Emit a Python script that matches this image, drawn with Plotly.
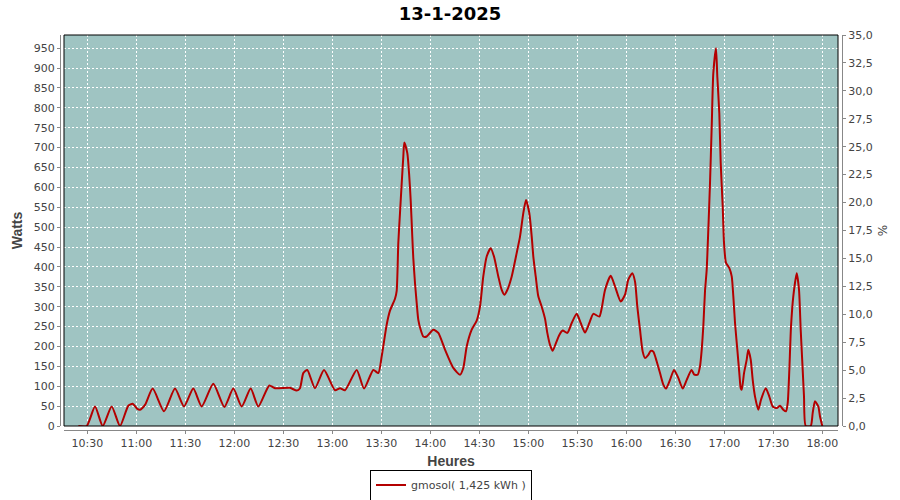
import plotly.graph_objects as go

DATE = "2025-01-13"
TITLE = "13-1-2025"
SERIES_NAME = "gmosol( 1,425 kWh )"

times = [
    "10:24:30", "10:29:38", "10:34:43", "10:39:26", "10:44:56", "10:50:01", "10:55:06", "10:57:48",
    "11:00:37", "11:02:16", "11:05:20", "11:10:02", "11:16:58", "11:23:41", "11:29:12", "11:34:54",
    "11:40:02", "11:47:08", "11:53:53", "11:59:23", "12:04:32", "12:10:02", "12:14:41", "12:21:26",
    "12:24:55", "12:34:06", "12:38:12", "12:40:13", "12:42:14", "12:44:41", "12:49:24", "12:54:55",
    "13:01:39", "13:04:43", "13:07:46", "13:14:56", "13:19:24", "13:25:06", "13:28:10", "13:30:14",
    "13:33:18", "13:35:19", "13:38:23", "13:39:25", "13:40:24", "13:41:26", "13:42:29", "13:43:28",
    "13:44:04", "13:45:55", "13:47:08", "13:47:59", "13:48:58", "13:49:35", "13:50:38", "13:51:40",
    "13:52:39", "13:54:07", "13:55:43", "13:57:47", "14:01:50", "14:04:53", "14:08:59", "14:14:05",
    "14:18:11", "14:20:12", "14:22:17", "14:25:20", "14:28:24", "14:30:25", "14:32:26", "14:34:31",
    "14:36:58", "14:38:59", "14:41:38", "14:43:43", "14:45:18", "14:47:08", "14:49:50", "14:52:53",
    "14:54:55", "14:56:56", "14:58:35", "15:00:37", "15:02:05", "15:03:04", "15:04:32", "15:06:07",
    "15:08:12", "15:10:13", "15:11:38", "15:13:17", "15:14:56", "15:16:58", "15:18:59", "15:21:04",
    "15:23:53", "15:26:34", "15:29:38", "15:32:05", "15:34:43", "15:37:21", "15:39:47", "15:43:28",
    "15:44:56", "15:46:58", "15:50:27", "15:53:05", "15:56:34", "15:59:12", "16:01:13", "16:03:40",
    "16:05:20", "16:06:44", "16:08:23", "16:10:02", "16:11:27", "16:13:28", "16:14:56", "16:16:32",
    "16:18:37", "16:20:38", "16:22:39", "16:24:18", "16:26:45", "16:29:12", "16:31:50", "16:34:32",
    "16:36:59", "16:39:55", "16:41:38", "16:43:43", "16:45:07", "16:46:10", "16:47:08", "16:48:11",
    "16:49:13", "16:50:12", "16:51:14", "16:52:17", "16:53:16", "16:54:55", "16:55:43", "16:56:56",
    "16:57:47", "16:59:01", "16:59:49", "17:01:02", "17:03:04", "17:04:32", "17:05:31", "17:06:33",
    "17:07:58", "17:09:11", "17:10:02", "17:10:39", "17:12:04", "17:13:43", "17:14:41", "17:16:10",
    "17:17:23", "17:18:48", "17:20:49", "17:22:28", "17:25:21", "17:27:33", "17:29:38", "17:32:05",
    "17:34:06", "17:36:07", "17:37:47", "17:38:49", "17:39:48", "17:40:50", "17:42:14", "17:44:20",
    "17:45:44", "17:46:46", "17:47:59", "17:48:47", "17:49:50", "17:52:53", "17:54:07", "17:55:31",
    "17:57:33", "17:58:35", "18:00:00",
]

watts = [
    0, 0, 49, 0, 49, 0, 51, 56,
    43, 41, 53, 94, 37, 94, 49, 94,
    49, 106, 48, 94, 49, 94, 49, 102,
    95, 96, 89, 95, 133, 141, 95, 141,
    90, 95, 90, 141, 94, 141, 133, 175,
    255, 290, 320, 340, 460, 535, 610, 677,
    713, 686, 627, 568, 476, 422, 359, 309,
    267, 242, 225, 225, 242, 234, 192, 146,
    129, 146, 200, 242, 265, 300, 376, 426,
    447, 426, 376, 342, 330, 342, 376, 435,
    476, 535, 568, 535, 476, 426, 376, 326,
    300, 270, 234, 204, 189, 209, 229, 240,
    234, 259, 282, 259, 235, 259, 282, 275,
    296, 342, 378, 351, 313, 330, 368, 384,
    363, 300, 242, 187, 171, 179, 189, 187,
    162, 133, 104, 94, 116, 141, 121, 94,
    116, 141, 129, 129, 150, 192, 250, 340,
    393, 493, 610, 753, 887, 950, 878, 786,
    661, 552, 460, 410, 397, 376, 326, 259,
    192, 133, 95, 91, 133, 167, 192, 167,
    116, 74, 41, 66, 95, 74, 49, 45,
    51, 41, 37, 58, 141, 250, 326, 384,
    342, 242, 141, 74, 0, 0, 33, 62,
    49, 24, 0,
]

x_range = ["10:15:44", "18:09:36"]
y_range = [0, 983]
y2_range = [0, 35]

x = [f"{DATE} {t}" for t in times]

TICK_FONT = dict(family="DejaVu Sans", size=11, color="#444444")
LABEL_FONT = dict(family="Liberation Sans", size=14, color="#444444")
AXIS_GRAY = "#888888"

fig = go.Figure()
fig.add_trace(go.Scatter(
    x=x, y=watts, mode="lines", name=SERIES_NAME,
    line=dict(color="#B40000", width=2, shape="spline", smoothing=0.6),
))
fig.add_trace(go.Scatter(
    x=[x[0]], y=[None], yaxis="y2", mode="lines", showlegend=False, hoverinfo="skip",
))

fig.update_layout(
    width=900, height=500,
    margin=dict(l=60, r=58, t=35, b=70, autoexpand=False),
    paper_bgcolor="white",
    plot_bgcolor="#9FC4C2",
    separators=",.",
    title=dict(text="<b>" + TITLE + "</b>", x=0.5, xanchor="center", y=0.973, yanchor="middle",
               font=dict(family="DejaVu Sans", size=18, color="black")),
    xaxis=dict(
        type="date",
        range=[f"{DATE} {x_range[0]}", f"{DATE} {x_range[1]}"],
        domain=[4 / 782, 778 / 782],
        anchor="free", position=0, automargin=False,
        tick0=f"{DATE} 10:30:00", dtick=30 * 60 * 1000, tickformat="%H:%M",
        showline=True, linecolor=AXIS_GRAY, linewidth=1,
        ticks="outside", ticklen=3, tickcolor=AXIS_GRAY,
        tickfont=TICK_FONT,
        showgrid=True, gridcolor="white", gridwidth=1, griddash="2px,2px",
        zeroline=False,
        title=dict(text="<b>Heures</b>", font=LABEL_FONT, standoff=6),
    ),
    yaxis=dict(
        range=y_range,
        domain=[4 / 395, 1],
        anchor="free", position=0, automargin=False,
        dtick=50, tick0=0,
        showline=True, linecolor=AXIS_GRAY, linewidth=1,
        ticks="outside", ticklen=3, tickcolor=AXIS_GRAY,
        tickfont=TICK_FONT,
        showgrid=True, gridcolor="white", gridwidth=1, griddash="2px,2px",
        zeroline=False,
        title=dict(text="<b>Watts</b>", font=LABEL_FONT, standoff=6),
    ),
    yaxis2=dict(
        range=y2_range,
        domain=[4 / 395, 1],
        overlaying="y", side="right",
        anchor="free", position=1, automargin=False,
        dtick=2.5, tick0=0, tickformat=".1f",
        showline=True, linecolor=AXIS_GRAY, linewidth=1,
        ticks="outside", ticklen=3, tickcolor=AXIS_GRAY,
        tickfont=TICK_FONT,
        showgrid=False, zeroline=False,
        title=dict(text="%", font=dict(family="DejaVu Sans", size=12, color="#444444"), standoff=6),
    ),
    legend=dict(
        orientation="h", x=0.5, xanchor="center", y=-0.1, yanchor="top",
        bordercolor="black", borderwidth=1, bgcolor="white",
        font=dict(family="DejaVu Sans", size=11, color="#444444"),
        itemwidth=30, tracegroupgap=0,
    ),
    shapes=[dict(type="rect", xref="x domain", yref="y domain", x0=0, x1=1, y0=0, y1=1,
                 line=dict(color="black", width=1), layer="above")],
    showlegend=True,
)

fig.write_html("out.html", post_script="document.body.style.margin='0';",
               config={"displayModeBar": False})
